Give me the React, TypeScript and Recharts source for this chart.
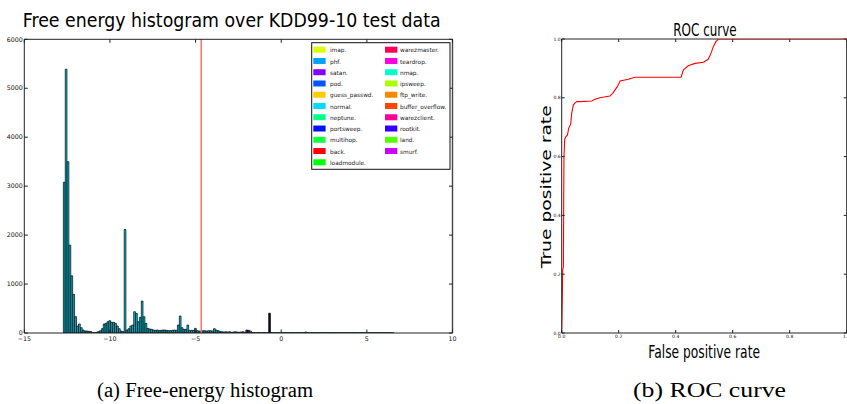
import React from 'react'
import {
  ComposedChart, LineChart, Bar, Cell, Line, XAxis, YAxis, ReferenceLine,
} from 'recharts'

// histogram of free energy, bins of equal width starting at HIST_START
const HIST_START = -12.72
const HIST_BIN = 0.111
const histCounts = [
  3080, 5390, 3500, 1795, 1169, 790, 333, 143, 184, 109,
  61, 41, 41, 35, 30, 8, 5, 15, 27, 45,
  88, 184, 197, 231, 252, 218, 218, 197, 143, 88,
  41, 27, 2115, 61, 88, 143, 163, 435, 401, 231,
  320, 653, 333, 197, 95, 82, 75, 61, 55, 61,
  50, 55, 61, 61, 55, 48, 50, 55, 61, 55,
  163, 347, 109, 75, 75, 163, 54, 54, 54, 95,
  48, 41, 41, 47, 47, 41, 47, 47, 41, 88,
  61, 47, 35, 27, 20, 27, 20, 27, 15, 20,
  27, 20, 15, 20, 27, 15, 61, 55, 40, 10,
  8, 6, 10, 8, 6, 8, 6, 8, 405, 8,
  6, 7, 6, 8, 7, 6, 8, 6, 7, 6,
  8, 7, 6, 7, 8, 6, 7, 20, 8, 7,
  6, 8, 7, 6, 7, 6, 8, 6, 7, 6,
  7, 6, 8, 6, 7, 6, 6, 7, 6, 7,
  6, 6, 8, 6, 7, 6, 6, 7, 6, 6,
  7, 6, 5, 6, 7, 5, 6, 6, 5, 6,
  5, 6, 5, 4,
]
// a few bins dominated by other classes
const binFills: Record<number, string> = { 96: '#4a1f8a', 97: '#4a1f8a', 108: '#14061f' }
const threshold = -4.67
const histXTicks = [-15, -10, -5, 0, 5, 10]
const histYTicks = [0, 1000, 2000, 3000, 4000, 5000, 6000]

const legendNames = [
  'imap.', 'phf.', 'satan.', 'pod.', 'guess_passwd.', 'normal.', 'neptune.',
  'portsweep.', 'multihop.', 'back.', 'loadmodule.',
  'warezmaster.', 'teardrop.', 'nmap.', 'ipsweep.', 'ftp_write.', 'buffer_overflow.',
  'warezclient.', 'rootkit.', 'land.', 'smurf.',
]
const legendColors = [
  '#ddff00', '#00a2ff', '#8800ff', '#0055ff', '#ffcc00', '#00ddff', '#00ff88',
  '#0011ff', '#11ff44', '#ff0000', '#00ff00',
  '#ff0055', '#ff00dd', '#00ffcc', '#aaff00', '#ff8800', '#ff4400',
  '#ff0099', '#3300ff', '#55ff00', '#cc00ff',
]

// ROC curve
const rocFpr = [
  0, 0.002, 0.0035, 0.006, 0.007, 0.008, 0.0105, 0.015, 0.02, 0.0245,
  0.0316, 0.035, 0.041, 0.047, 0.053, 0.064, 0.105, 0.117, 0.134, 0.169,
  0.179, 0.195, 0.205, 0.234, 0.257, 0.419, 0.427, 0.444, 0.468, 0.497,
  0.514, 0.524, 0.532, 0.541, 0.55, 1.0,
]
const rocTpr = [
  0, 0.112, 0.214, 0.226, 0.452, 0.6, 0.659, 0.668, 0.673, 0.696,
  0.711, 0.747, 0.776, 0.783, 0.787, 0.787, 0.789, 0.795, 0.8, 0.806,
  0.815, 0.838, 0.857, 0.863, 0.87, 0.87, 0.895, 0.909, 0.917, 0.921,
  0.931, 0.952, 0.974, 0.991, 1.0, 1.0,
]
const rocTicks = [0, 0.2, 0.4, 0.6, 0.8, 1.0]

const histData = histCounts.map((count, i) => ({ x: HIST_START + (i + 0.5) * HIST_BIN, count }))
const rocData = rocFpr.map((fpr, i) => ({ fpr, tpr: rocTpr[i] }))

const FONT = '"DejaVu Sans", sans-serif'
const frame = '#222'
const axisStroke = { stroke: frame, strokeWidth: 1 }
const minus = (v: number) => (v < 0 ? '\u2212' + Math.abs(v) : String(v))

// left plot geometry
const H_W = 460, H_H = 345, H_YW = 24.3, H_MR = 7.5, H_TOP = 39.3
const H_PLOT_W = H_W - H_YW - H_MR
const H_PLOT_H = H_H - H_TOP - 12
// right plot geometry
const R_W = 320, R_YW = 31.7, R_MR = 3.3, R_TOP = 39
const R_PLOT_W = R_W - R_YW - R_MR
const R_PLOT_H = H_H - R_TOP - 12

// inward tick marks on the top and right spines (matplotlib frame), length in px
function frameTicks(xTicks: number[], yTicks: number[], xDom: number[], yDom: number[],
                    plotW: number, plotH: number, len: number) {
  const dy = (len * (yDom[1] - yDom[0])) / plotH
  const dx = (len * (xDom[1] - xDom[0])) / plotW
  return [
    ...xTicks.map(t => (
      <ReferenceLine key={'t' + t} stroke={frame} strokeWidth={1}
        segment={[{ x: t, y: yDom[1] }, { x: t, y: yDom[1] - dy }]} />
    )),
    ...yTicks.map(t => (
      <ReferenceLine key={'r' + t} stroke={frame} strokeWidth={1}
        segment={[{ x: xDom[1], y: t }, { x: xDom[1] - dx, y: t }]} />
    )),
  ]
}

export default function App() {
  const bg = '#00c2dc'
  return (
    <div style={{ position: 'absolute', left: 0, top: 0, width: 847, height: 404,
                  overflow: 'hidden', background: '#fff' }}>
      <div style={{ position: 'absolute', left: 0, top: 0 }}>
        <ComposedChart width={H_W} height={H_H} data={histData}
                       margin={{ top: H_TOP, right: H_MR, left: 0, bottom: 0 }}
                       barCategoryGap={0} barGap={0}>
          <XAxis dataKey="x" type="number" domain={[-15, 10]} ticks={histXTicks}
                 allowDataOverflow interval={0} tickFormatter={minus} height={12}
                 tickSize={-3.5} tickMargin={7.5} axisLine={axisStroke} tickLine={axisStroke}
                 tick={{ fontSize: 6.3, fill: '#111', fontFamily: FONT }} />
          <YAxis type="number" domain={[0, 6000]} ticks={histYTicks} width={H_YW}
                 allowDataOverflow interval={0} tickSize={-3.5} tickMargin={5.1}
                 axisLine={axisStroke} tickLine={axisStroke}
                 tick={{ fontSize: 6.3, fill: '#111', fontFamily: FONT }} />
          <Bar dataKey="count" barSize={(HIST_BIN * H_PLOT_W) / 25} fill={bg}
               stroke="#000" strokeWidth={0.7} isAnimationActive={false}>
            {histData.map((d, i) => <Cell key={i} fill={binFills[i] ?? bg} />)}
          </Bar>
          <ReferenceLine x={threshold} stroke="#ff6e6e" strokeWidth={1.5} />
          <ReferenceLine y={6000} stroke={frame} strokeWidth={1} />
          <ReferenceLine x={10} stroke="#444" strokeWidth={1.4} />
          {frameTicks(histXTicks, histYTicks, [-15, 10], [0, 6000], H_PLOT_W, H_PLOT_H, 3.5)}
        </ComposedChart>
      </div>

      <div style={{ position: 'absolute', left: 530, top: 0 }}>
        <LineChart width={R_W} height={H_H} data={rocData}
                   margin={{ top: R_TOP, right: R_MR, left: 0, bottom: 0 }}>
          <XAxis dataKey="fpr" type="number" domain={[0, 1]} ticks={rocTicks}
                 allowDataOverflow interval={0} tickFormatter={v => v.toFixed(1)} height={12}
                 tickSize={-3} tickMargin={5} axisLine={axisStroke} tickLine={axisStroke}
                 tick={{ fontSize: 4.5, fill: '#111', fontFamily: FONT }} />
          <YAxis type="number" domain={[0, 1]} ticks={rocTicks} width={R_YW}
                 allowDataOverflow interval={0} tickFormatter={v => v.toFixed(1)}
                 tickSize={-3} tickMargin={4} axisLine={axisStroke} tickLine={axisStroke}
                 tick={{ fontSize: 4.5, fill: '#111', fontFamily: FONT }} />
          <ReferenceLine y={1} stroke={frame} strokeWidth={1} />
          <ReferenceLine x={1} stroke={frame} strokeWidth={1} />
          {frameTicks(rocTicks, rocTicks, [0, 1], [0, 1], R_PLOT_W, R_PLOT_H, 3)}
          <Line dataKey="tpr" type="linear" stroke="#ff0000" strokeWidth={1.1}
                dot={false} isAnimationActive={false} />
        </LineChart>
      </div>

      <svg width={847} height={404} style={{ position: 'absolute', left: 0, top: 0, pointerEvents: 'none' }}
           fontFamily={FONT}>
        <text x={22.7} y={26.7} fontSize={19} textLength={418} lengthAdjust="spacingAndGlyphs">
          Free energy histogram over KDD99-10 test data
        </text>
        <text x={673.3} y={36} fontSize={17.4} textLength={63.4} lengthAdjust="spacingAndGlyphs">
          ROC curve
        </text>
        <text x={648.3} y={358.3} fontSize={18.3} textLength={111.7} lengthAdjust="spacingAndGlyphs">
          False positive rate
        </text>
        <text transform="translate(550.7,268.3) rotate(-90)" fontSize={14.6} textLength={163}
              lengthAdjust="spacingAndGlyphs">
          True positive rate
        </text>

        <rect x={311.7} y={42.7} width={138.3} height={126.6} fill="#fff" stroke="#111" strokeWidth={1} />
        {legendNames.map((name, i) => {
          const col = i < 11 ? 0 : 1
          const row = col ? i - 11 : i
          const y = 46.7 + row * 11.26
          return (
            <g key={name}>
              <rect x={col ? 385 : 313.3} y={y} width={12.3} height={6} fill={legendColors[i]} />
              <text x={col ? 400 : 330} y={y + 5.6} fontSize={5.8} fill="#222">{name}</text>
            </g>
          )
        })}

        <text x={97} y={397} fontFamily='"Liberation Serif", serif' fontSize={20}
              textLength={216} lengthAdjust="spacingAndGlyphs">
          (a) Free-energy histogram
        </text>
        <text x={633} y={397} fontFamily='"Liberation Serif", serif' fontSize={20}
              textLength={153} lengthAdjust="spacingAndGlyphs">
          (b) ROC curve
        </text>
      </svg>
    </div>
  )
}
